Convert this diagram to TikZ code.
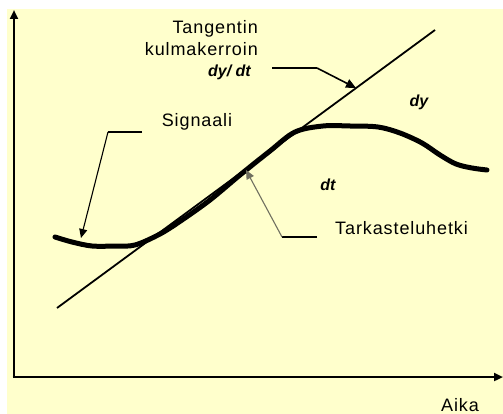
\documentclass[tikz,border=0pt]{standalone}
\usepackage{fontspec}
\setmainfont{Liberation Sans}
\usetikzlibrary{arrows.meta}
\definecolor{bgyellow}{HTML}{FFFFCC}
\definecolor{leadgray}{HTML}{707060}

\begin{document}
\begin{tikzpicture}[x=1pt, y=-1pt,
    axis/.style={line width=2.6pt, -{Triangle[length=9pt,width=8pt]}},
    lead/.style={line width=1.1pt, -{Triangle[length=9pt,width=8pt]}},
    shelf/.style={line width=2.4pt},
    lbl/.style={font=\fontsize{18}{22}\selectfont\addfontfeature{LetterSpace=5}, inner sep=0pt},
    diff/.style={font=\bfseries\itshape\fontsize{16}{18}\selectfont, inner sep=0pt}]

    % 1. Background and frame
    \useasboundingbox (0,0) rectangle (503,414);
    \fill[bgyellow] (7,9) rectangle (503,414);

    % 2. Axes
    \coordinate (O) at (14,377);
    \coordinate (Ytop) at (14,10);
    \coordinate (Xend) at (503,377);
    \draw[axis] (O) -- (Ytop);
    \draw[axis] ([xshift=-1.3pt]O) -- (Xend);
    \node[lbl] (aika) at (460,405) {Aika};

    % 3. Tangent line
    \coordinate (T0) at (57,308);
    \coordinate (T1) at (435,30);
    \draw[line width=1.8pt] (T0) -- (T1);

    % 4. The signal
    \draw[line width=5pt, line cap=round, line join=round]
        plot[smooth, tension=0.55] coordinates {
            (55,237) (72,242) (92,246) (115,246) (135,245) (160,234)
            (182,220) (210,200) (240,175) (270,151) (295,132) (323,126)
            (350,126) (378,127) (400,133) (422,143) (440,155) (456,164)
            (472,168) (487,170)};

    % 5. Labels
    \node[lbl, anchor=east, align=right] (tang) at (258,38)
        {Tangentin\\kulmakerroin};
    \node[diff, anchor=east] (dydt) at (251,72) {dy/ dt};
    \node[lbl] (sign) at (197,122) {Signaali};
    \node[lbl, anchor=west] (tark) at (335,228) {Tarkasteluhetki};
    \node[diff] (dy) at (419,102) {dy};
    \node[diff] (dt) at (328,185) {dt};

    % 6. Leaders
    \coordinate (L1a) at (272,68);
    \coordinate (L1b) at (317,68);
    \coordinate (L1c) at (356,88);
    \draw[line width=1.4pt] (L1a) -- (L1b);
    \draw[line width=1.6pt, -{Triangle[length=10pt,width=9pt]}] (L1b) -- (L1c);

    \coordinate (L2a) at (142,132);
    \coordinate (L2b) at (108,132);
    \coordinate (L2c) at (81,238);
    \draw[shelf] (L2a) -- (L2b);
    \draw[lead] (L2b) -- (L2c);

    \coordinate (L3a) at (317,237);
    \coordinate (L3b) at (282,237);
    \coordinate (L3c) at (246,170);
    \draw[shelf] (L3a) -- (L3b);
    \draw[lead, leadgray] (L3b) -- (L3c);

\end{tikzpicture}
\end{document}
